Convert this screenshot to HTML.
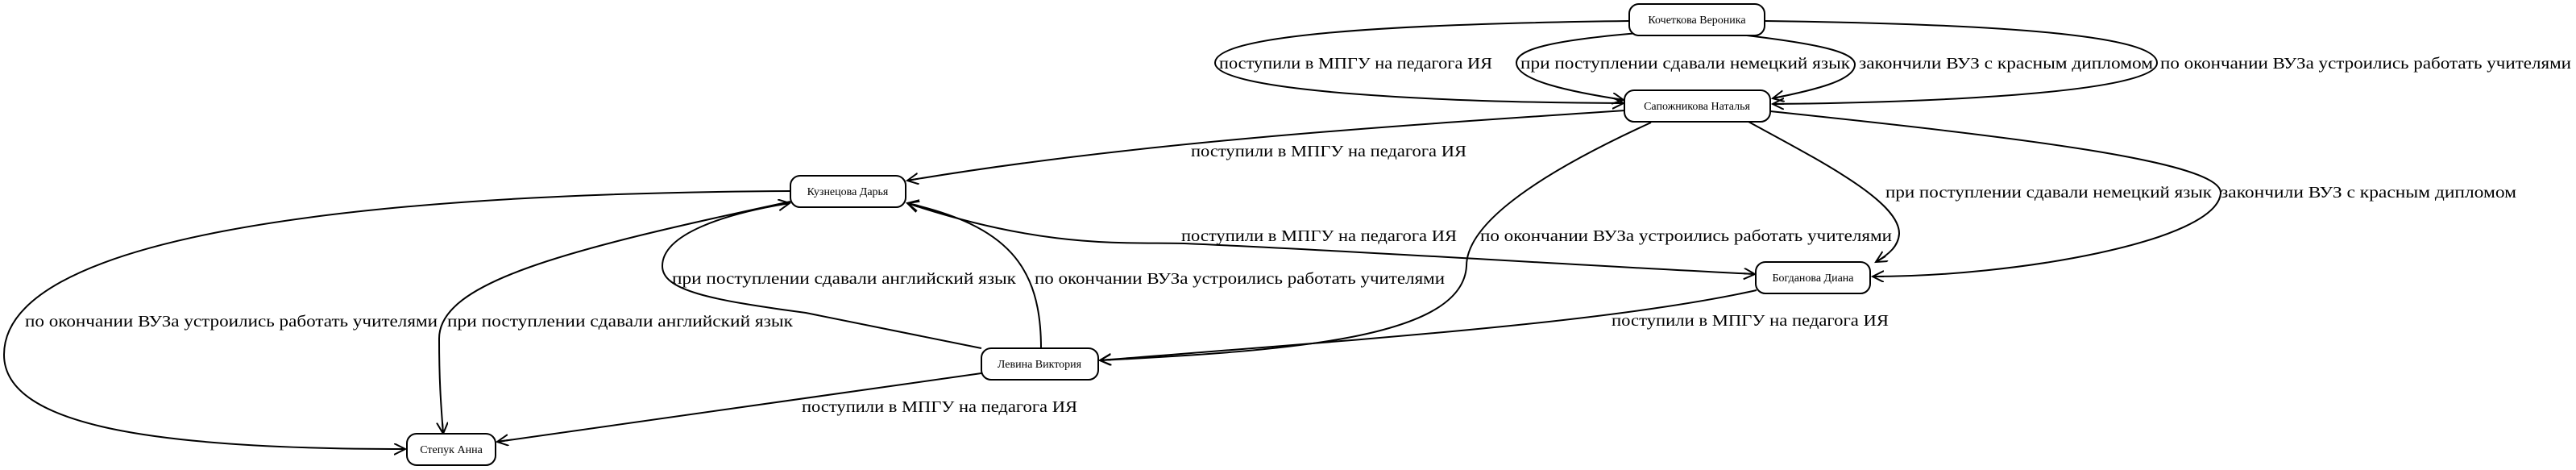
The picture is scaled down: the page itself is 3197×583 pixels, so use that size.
<!DOCTYPE html>
<html><head><meta charset="utf-8"><style>
html,body{margin:0;padding:0;background:#fff;}
svg{display:block;}
.n{fill:#fff;stroke:#000;stroke-width:2;}
.e{fill:none;stroke:#000;stroke-width:2;}
.nt{font-family:"Liberation Serif","DejaVu Serif",serif;font-size:14px;text-anchor:middle;}
.lt{font-family:"Liberation Serif","DejaVu Serif",serif;font-size:20px;}
</style></head><body>
<svg width="3197" height="583" viewBox="0 0 3197 583" xmlns="http://www.w3.org/2000/svg">
<defs>
<marker id="a" markerWidth="20" markerHeight="20" refX="14" refY="7" orient="auto" markerUnits="userSpaceOnUse">
<path d="M0,0 L14,7 L0,14 M14,7 L0,7" fill="none" stroke="#000" stroke-width="2"/>
</marker>
<marker id="s" markerWidth="20" markerHeight="20" refX="0" refY="7" orient="auto" markerUnits="userSpaceOnUse">
<path d="M14,0 L0,7 L14,14 M0,7 L14,7" fill="none" stroke="#000" stroke-width="2"/>
</marker>
</defs>

<path class="e" marker-end="url(#a)" d="M2022,26 C1700,30 1508,45 1508,78 C1508,115 1800,127 2015,128"/>
<path class="e" marker-end="url(#a)" d="M2045,40 C1920,50 1882,62 1882,78 C1882,100 1950,114 2015,124"/>
<path class="e" marker-end="url(#a)" d="M2168,44 C2260,55 2302,65 2302,80 C2302,100 2250,112 2200,122"/>
<path class="e" marker-end="url(#a)" d="M2190,26 C2500,30 2677,45 2677,78 C2677,115 2400,127 2200,129"/>

<path class="e" marker-end="url(#a)" d="M2017,137 C1700,158 1400,178 1126,224"/>
<path class="e" marker-end="url(#a)" d="M2170,151 C2260,200 2358,250 2357,290 C2356,305 2345,315 2328,325"/>
<path class="e" marker-end="url(#a)" d="M2197,138 C2500,170 2760,200 2756,240 C2750,300 2500,343 2324,343"/>
<path class="e" marker-end="url(#a)" d="M2049,152 C1900,220 1820,280 1820,330 C1815,420 1600,435 1365,447"/>
<path class="e" marker-end="url(#a)" d="M2180,360 C2000,400 1700,420 1365,447"/>
<path class="e" marker-start="url(#s)" marker-end="url(#a)" d="M1126,252 C1300,310 1400,300 1470,302 C1700,312 1900,326 2178,340"/>
<path class="e" marker-end="url(#a)" d="M1218,432 L1000,388 C880,372 822,360 822,330 C822,290 900,265 980,252"/>
<path class="e" marker-end="url(#a)" d="M1292,432 C1292,330 1250,280 1126,252"/>
<path class="e" marker-end="url(#a)" d="M981,237 C400,240 5,300 5,440 C5,530 200,557 503,557"/>
<path class="e" marker-end="url(#a)" d="M981,250 C700,310 545,350 545,420 C545,480 548,510 550,538"/>
<path class="e" marker-end="url(#a)" d="M1218,463 L617,548"/>

<rect class="n" x="2022" y="5" width="168" height="39" rx="12"/>
<text class="nt" x="2106" y="29">Кочеткова Вероника</text>
<rect class="n" x="2016" y="112" width="181" height="39" rx="12"/>
<text class="nt" x="2106" y="136">Сапожникова Наталья</text>
<rect class="n" x="981" y="218" width="143" height="39" rx="12"/>
<text class="nt" x="1052" y="242">Кузнецова Дарья</text>
<rect class="n" x="2179" y="325" width="142" height="39" rx="12"/>
<text class="nt" x="2250" y="349">Богданова Диана</text>
<rect class="n" x="1218" y="432" width="145" height="39" rx="12"/>
<text class="nt" x="1290" y="456">Левина Виктория</text>
<rect class="n" x="505" y="538" width="110" height="39" rx="12"/>
<text class="nt" x="560" y="562">Степук Анна</text>

<g class="lt">
<text x="1513" y="85" textLength="339" lengthAdjust="spacingAndGlyphs">поступили в МПГУ на педагога ИЯ</text>
<text x="1887" y="85" textLength="409" lengthAdjust="spacingAndGlyphs">при поступлении сдавали немецкий язык</text>
<text x="2307" y="85" textLength="365" lengthAdjust="spacingAndGlyphs">закончили ВУЗ с красным дипломом</text>
<text x="2681" y="85" textLength="510" lengthAdjust="spacingAndGlyphs">по окончании ВУЗа устроились работать учителями</text>
<text x="1478" y="194" textLength="342" lengthAdjust="spacingAndGlyphs">поступили в МПГУ на педагога ИЯ</text>
<text x="2340" y="245" textLength="405" lengthAdjust="spacingAndGlyphs">при поступлении сдавали немецкий язык</text>
<text x="2756" y="245" textLength="367" lengthAdjust="spacingAndGlyphs">закончили ВУЗ с красным дипломом</text>
<text x="1466" y="299" textLength="342" lengthAdjust="spacingAndGlyphs">поступили в МПГУ на педагога ИЯ</text>
<text x="1837" y="299" textLength="511" lengthAdjust="spacingAndGlyphs">по окончании ВУЗа устроились работать учителями</text>
<text x="1284" y="352" textLength="509" lengthAdjust="spacingAndGlyphs">по окончании ВУЗа устроились работать учителями</text>
<text x="834" y="352" textLength="427" lengthAdjust="spacingAndGlyphs">при поступлении сдавали английский язык</text>
<text x="2000" y="404" textLength="344" lengthAdjust="spacingAndGlyphs">поступили в МПГУ на педагога ИЯ</text>
<text x="31" y="405" textLength="512" lengthAdjust="spacingAndGlyphs">по окончании ВУЗа устроились работать учителями</text>
<text x="555" y="405" textLength="429" lengthAdjust="spacingAndGlyphs">при поступлении сдавали английский язык</text>
<text x="995" y="511" textLength="342" lengthAdjust="spacingAndGlyphs">поступили в МПГУ на педагога ИЯ</text>
</g>
</svg>
</body></html>
